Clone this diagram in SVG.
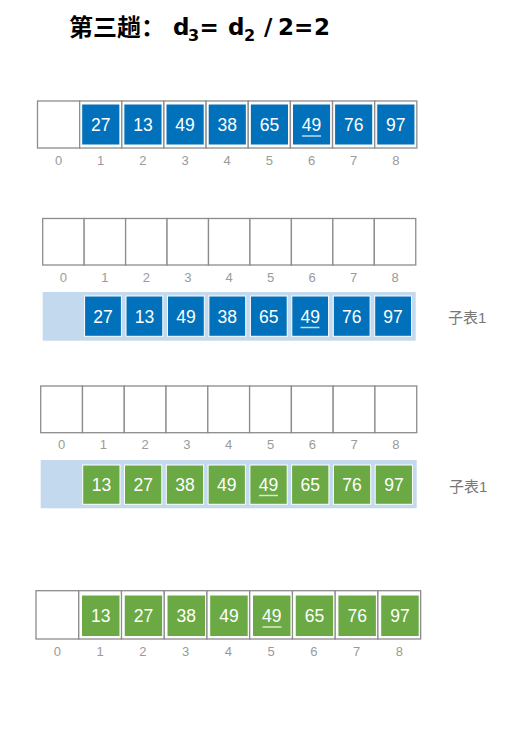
<svg xmlns="http://www.w3.org/2000/svg" width="512" height="733" viewBox="0 0 512 733">
<style>
.cell{fill:#fff;stroke:#8c8c8c;stroke-width:1.3}
.blue{fill:#0071BA;stroke:#fff;stroke-width:1}
.green{fill:#6AA944;stroke:#fff;stroke-width:1}
.band{fill:#C3D9EE}
.num{font-family:"Liberation Sans",Arial,sans-serif;font-size:17.5px;fill:#fff;text-anchor:middle}
.idx{font-family:"Liberation Sans",Arial,sans-serif;font-size:13px;fill:#9a9a9a;text-anchor:middle}
.lbl{font-family:"Liberation Sans","Noto Sans CJK SC",sans-serif;font-size:15px;fill:#777}
.ul{stroke:#fff;stroke-opacity:0.75;stroke-width:1.5}
.title{font-family:"Noto Sans CJK SC","Noto Sans",sans-serif;font-size:24px;font-weight:bold;fill:#000}
.lat{font-family:"DejaVu Sans",sans-serif;font-size:23px}
.sub{font-family:"DejaVu Sans",sans-serif;font-size:16px}
</style>
<text class="title" y="36"><tspan x="69">第三趟：</tspan><tspan class="lat" x="173" y="35">d</tspan><tspan class="sub" x="188" y="41">3</tspan><tspan class="lat" x="199.5" y="35">=</tspan><tspan class="lat" x="228">d</tspan><tspan class="sub" x="244" y="41">2</tspan><tspan class="lat" x="264" y="35">/</tspan><tspan class="lat" x="278">2</tspan><tspan class="lat" x="294">=</tspan><tspan class="lat" x="314">2</tspan></text>

<!-- Row 1 -->
<g id="row1">
<rect class="cell" x="37.5" y="101" width="42.15" height="47"/>
<rect class="cell" x="79.65" y="101" width="42.15" height="47"/>
<rect class="cell" x="121.8" y="101" width="42.15" height="47"/>
<rect class="cell" x="163.95" y="101" width="42.15" height="47"/>
<rect class="cell" x="206.1" y="101" width="42.15" height="47"/>
<rect class="cell" x="248.25" y="101" width="42.15" height="47"/>
<rect class="cell" x="290.4" y="101" width="42.15" height="47"/>
<rect class="cell" x="332.55" y="101" width="42.15" height="47"/>
<rect class="cell" x="374.7" y="101" width="42.15" height="47"/>
<rect class="blue" x="81.7" y="104" width="38.2" height="41"/>
<rect class="blue" x="123.85" y="104" width="38.2" height="41"/>
<rect class="blue" x="166" y="104" width="38.2" height="41"/>
<rect class="blue" x="208.15" y="104" width="38.2" height="41"/>
<rect class="blue" x="250.3" y="104" width="38.2" height="41"/>
<rect class="blue" x="292.45" y="104" width="38.2" height="41"/>
<rect class="blue" x="334.6" y="104" width="38.2" height="41"/>
<rect class="blue" x="376.75" y="104" width="38.2" height="41"/>
<text class="num" x="100.8" y="131">27</text>
<text class="num" x="142.95" y="131">13</text>
<text class="num" x="185.1" y="131">49</text>
<text class="num" x="227.25" y="131">38</text>
<text class="num" x="269.4" y="131">65</text>
<text class="num" x="311.55" y="131">49</text>
<line class="ul" x1="302" y1="136" x2="321" y2="136"/>
<text class="num" x="353.7" y="131">76</text>
<text class="num" x="395.85" y="131">97</text>
<text class="idx" x="58.6" y="164.5">0</text>
<text class="idx" x="100.7" y="164.5">1</text>
<text class="idx" x="142.9" y="164.5">2</text>
<text class="idx" x="185" y="164.5">3</text>
<text class="idx" x="227.2" y="164.5">4</text>
<text class="idx" x="269.3" y="164.5">5</text>
<text class="idx" x="311.5" y="164.5">6</text>
<text class="idx" x="353.6" y="164.5">7</text>
<text class="idx" x="395.8" y="164.5">8</text>
</g>

<!-- Row 2 empty table -->
<g id="row2">
<rect class="cell" x="42.7" y="218.5" width="41.45" height="46.5"/>
<rect class="cell" x="84.15" y="218.5" width="41.45" height="46.5"/>
<rect class="cell" x="125.6" y="218.5" width="41.45" height="46.5"/>
<rect class="cell" x="167.05" y="218.5" width="41.45" height="46.5"/>
<rect class="cell" x="208.5" y="218.5" width="41.45" height="46.5"/>
<rect class="cell" x="249.95" y="218.5" width="41.45" height="46.5"/>
<rect class="cell" x="291.4" y="218.5" width="41.45" height="46.5"/>
<rect class="cell" x="332.85" y="218.5" width="41.45" height="46.5"/>
<rect class="cell" x="374.3" y="218.5" width="41.45" height="46.5"/>
<text class="idx" x="63.4" y="281.5">0</text>
<text class="idx" x="104.9" y="281.5">1</text>
<text class="idx" x="146.3" y="281.5">2</text>
<text class="idx" x="187.8" y="281.5">3</text>
<text class="idx" x="229.2" y="281.5">4</text>
<text class="idx" x="270.7" y="281.5">5</text>
<text class="idx" x="312.1" y="281.5">6</text>
<text class="idx" x="353.6" y="281.5">7</text>
<text class="idx" x="395" y="281.5">8</text>
</g>

<g id="sub1a">
<rect class="band" x="42.7" y="292" width="373" height="48.7"/>
<rect class="blue" x="84.6" y="296" width="36.8" height="40.3"/>
<rect class="blue" x="126" y="296" width="36.8" height="40.3"/>
<rect class="blue" x="167.5" y="296" width="36.8" height="40.3"/>
<rect class="blue" x="208.9" y="296" width="36.8" height="40.3"/>
<rect class="blue" x="250.4" y="296" width="36.8" height="40.3"/>
<rect class="blue" x="291.8" y="296" width="36.8" height="40.3"/>
<rect class="blue" x="333.3" y="296" width="36.8" height="40.3"/>
<rect class="blue" x="374.7" y="296" width="36.8" height="40.3"/>
<text class="num" x="103" y="322.5">27</text>
<text class="num" x="144.4" y="322.5">13</text>
<text class="num" x="185.9" y="322.5">49</text>
<text class="num" x="227.3" y="322.5">38</text>
<text class="num" x="268.8" y="322.5">65</text>
<text class="num" x="310.2" y="322.5">49</text>
<line class="ul" x1="300.5" y1="327.5" x2="319.5" y2="327.5"/>
<text class="num" x="351.7" y="322.5">76</text>
<text class="num" x="393.1" y="322.5">97</text>
<text class="lbl" x="448" y="323">子表1</text>
</g>

<!-- Row 3 empty table -->
<g id="row3">
<rect class="cell" x="40.7" y="386" width="41.78" height="46.7"/>
<rect class="cell" x="82.48" y="386" width="41.78" height="46.7"/>
<rect class="cell" x="124.26" y="386" width="41.78" height="46.7"/>
<rect class="cell" x="166.04" y="386" width="41.78" height="46.7"/>
<rect class="cell" x="207.82" y="386" width="41.78" height="46.7"/>
<rect class="cell" x="249.6" y="386" width="41.78" height="46.7"/>
<rect class="cell" x="291.38" y="386" width="41.78" height="46.7"/>
<rect class="cell" x="333.16" y="386" width="41.78" height="46.7"/>
<rect class="cell" x="374.94" y="386" width="41.78" height="46.7"/>
<text class="idx" x="61.6" y="448.5">0</text>
<text class="idx" x="103.4" y="448.5">1</text>
<text class="idx" x="145.2" y="448.5">2</text>
<text class="idx" x="186.9" y="448.5">3</text>
<text class="idx" x="228.7" y="448.5">4</text>
<text class="idx" x="270.5" y="448.5">5</text>
<text class="idx" x="312.3" y="448.5">6</text>
<text class="idx" x="354" y="448.5">7</text>
<text class="idx" x="395.8" y="448.5">8</text>
</g>

<g id="sub1b">
<rect class="band" x="40.7" y="460" width="376" height="48.3"/>
<rect class="green" x="82.7" y="465" width="37.3" height="39.3"/>
<rect class="green" x="124.5" y="465" width="37.3" height="39.3"/>
<rect class="green" x="166.3" y="465" width="37.3" height="39.3"/>
<rect class="green" x="208.1" y="465" width="37.3" height="39.3"/>
<rect class="green" x="249.9" y="465" width="37.3" height="39.3"/>
<rect class="green" x="291.6" y="465" width="37.3" height="39.3"/>
<rect class="green" x="333.4" y="465" width="37.3" height="39.3"/>
<rect class="green" x="375.2" y="465" width="37.3" height="39.3"/>
<text class="num" x="101.4" y="490.5">13</text>
<text class="num" x="143.2" y="490.5">27</text>
<text class="num" x="185" y="490.5">38</text>
<text class="num" x="226.8" y="490.5">49</text>
<text class="num" x="268.6" y="490.5">49</text>
<line class="ul" x1="259" y1="495.5" x2="278" y2="495.5"/>
<text class="num" x="310.3" y="490.5">65</text>
<text class="num" x="352.1" y="490.5">76</text>
<text class="num" x="393.9" y="490.5">97</text>
<text class="lbl" x="449" y="492">子表1</text>
</g>

<!-- Row 4 -->
<g id="row4">
<rect class="cell" x="36" y="590.7" width="42.74" height="48.3"/>
<rect class="cell" x="78.74" y="590.7" width="42.74" height="48.3"/>
<rect class="cell" x="121.48" y="590.7" width="42.74" height="48.3"/>
<rect class="cell" x="164.22" y="590.7" width="42.74" height="48.3"/>
<rect class="cell" x="206.96" y="590.7" width="42.74" height="48.3"/>
<rect class="cell" x="249.7" y="590.7" width="42.74" height="48.3"/>
<rect class="cell" x="292.44" y="590.7" width="42.74" height="48.3"/>
<rect class="cell" x="335.18" y="590.7" width="42.74" height="48.3"/>
<rect class="cell" x="377.92" y="590.7" width="42.74" height="48.3"/>
<rect class="green" x="81.5" y="595" width="38.5" height="41.5"/>
<rect class="green" x="124.2" y="595" width="38.5" height="41.5"/>
<rect class="green" x="167" y="595" width="38.5" height="41.5"/>
<rect class="green" x="209.7" y="595" width="38.5" height="41.5"/>
<rect class="green" x="252.5" y="595" width="38.5" height="41.5"/>
<rect class="green" x="295.2" y="595" width="38.5" height="41.5"/>
<rect class="green" x="337.9" y="595" width="38.5" height="41.5"/>
<rect class="green" x="380.7" y="595" width="38.5" height="41.5"/>
<text class="num" x="100.8" y="622">13</text>
<text class="num" x="143.5" y="622">27</text>
<text class="num" x="186.3" y="622">38</text>
<text class="num" x="229" y="622">49</text>
<text class="num" x="271.8" y="622">49</text>
<line class="ul" x1="262.5" y1="627" x2="281.5" y2="627"/>
<text class="num" x="314.5" y="622">65</text>
<text class="num" x="357.2" y="622">76</text>
<text class="num" x="400" y="622">97</text>
<text class="idx" x="57.4" y="656">0</text>
<text class="idx" x="100.1" y="656">1</text>
<text class="idx" x="142.9" y="656">2</text>
<text class="idx" x="185.6" y="656">3</text>
<text class="idx" x="228.3" y="656">4</text>
<text class="idx" x="271.1" y="656">5</text>
<text class="idx" x="313.8" y="656">6</text>
<text class="idx" x="356.6" y="656">7</text>
<text class="idx" x="399.3" y="656">8</text>
</g>
</svg>
